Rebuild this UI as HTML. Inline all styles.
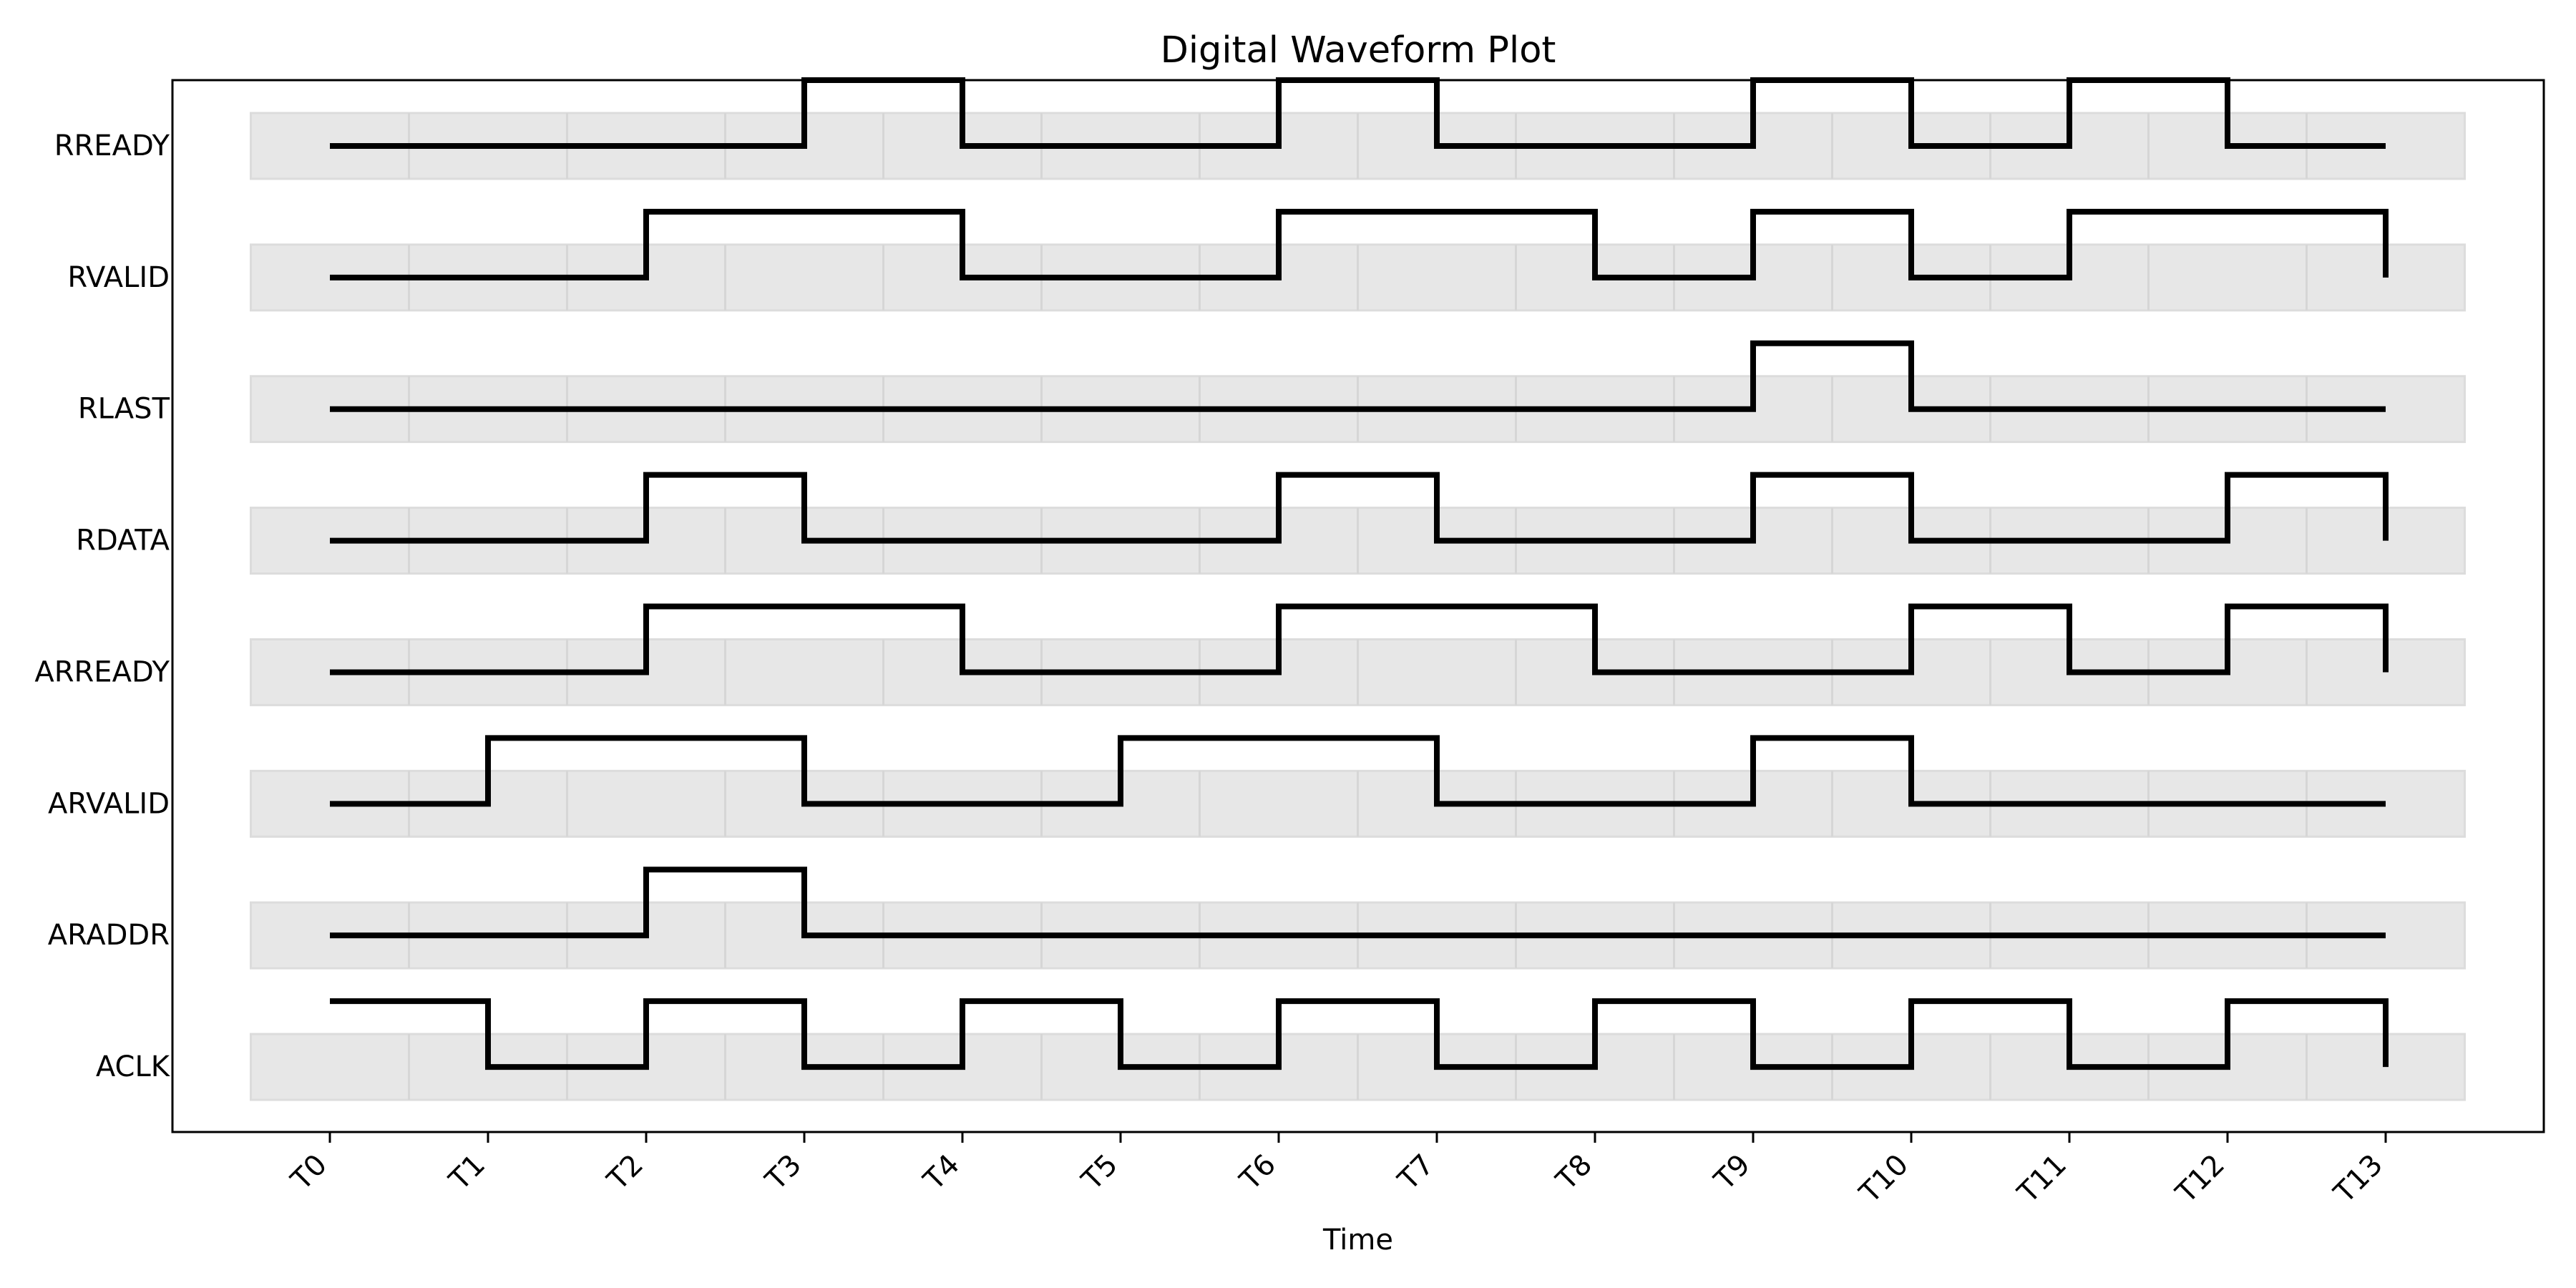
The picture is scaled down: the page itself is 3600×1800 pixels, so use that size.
<!DOCTYPE html>
<html>
<head>
<meta charset="utf-8">
<style>
html,body{margin:0;padding:0;background:#fff;}
svg{display:block;}
text{font-family:"DejaVu Sans","Liberation Sans",sans-serif;fill:#000;}
</style>
</head>
<body>
<svg id="chart" xmlns="http://www.w3.org/2000/svg" width="3600" height="1800" viewBox="0 0 3600 1800">
<rect x="0" y="0" width="3600" height="1800" fill="#fff"/>
<text x="1898" y="87" font-size="51" text-anchor="middle">Digital Waveform Plot</text>
<g id="bands"></g>
<g id="grid"></g>
<g id="waves"></g>
<rect x="241" y="112" width="3314" height="1470" fill="none" stroke="#000" stroke-width="3"/>
<g id="xticks"></g>
<g id="ylabels"></g>
<text x="1898" y="1746" font-size="40" text-anchor="middle">Time</text>
</svg>
<script>
const timeLabels = ["T0","T1","T2","T3","T4","T5","T6","T7","T8","T9","T10","T11","T12","T13"];
const signalNames = ["ACLK","ARADDR","ARVALID","ARREADY","RDATA","RLAST","RVALID","RREADY"];
const aclk    = [1,0,1,0,1,0,1,0,1,0,1,0,1,0];
const araddr  = [0,0,1,0,0,0,0,0,0,0,0,0,0,0];
const arvalid = [0,1,1,0,0,1,1,0,0,1,0,0,0,0];
const arready = [0,0,1,1,0,0,1,1,0,0,1,0,1,0];
const rdata   = [0,0,1,0,0,0,1,0,0,1,0,0,1,0];
const rlast   = [0,0,0,0,0,0,0,0,0,1,0,0,0,0];
const rvalid  = [0,0,1,1,0,0,1,1,0,1,0,1,1,0];
const rready  = [0,0,0,1,0,0,1,0,0,1,0,1,0,0];
const signalValues = [aclk, araddr, arvalid, arready, rdata, rlast, rvalid, rready];

const NS = "http://www.w3.org/2000/svg";
const X0 = 461, XSTEP = (3334 - 461) / 13;
function xs(i){ return X0 + i * XSTEP; }
const YBOT = 1583, YUNIT = (1583 - 112) / 16;
function ys(v){ return YBOT - (v + 1) * YUNIT; }
function mk(tag, attrs, parent){
  const e = document.createElementNS(NS, tag);
  for (const k in attrs) e.setAttribute(k, attrs[k]);
  parent.appendChild(e);
  return e;
}
const bands = document.getElementById('bands');
const grid = document.getElementById('grid');
const waves = document.getElementById('waves');
const xticks = document.getElementById('xticks');
const ylabels = document.getElementById('ylabels');
const n = timeLabels.length;

signalNames.forEach((name, r) => {
  const base = r * 2;
  const b = mk('rect', {x: xs(-0.5), y: ys(base + 0.5), width: xs(n - 0.5) - xs(-0.5), height: ys(base - 0.5) - ys(base + 0.5), fill: '#e7e7e7', stroke: '#dcdcdc', 'stroke-width': 3}, bands);
  
  
  for (let k = 0; k < n - 1; k++) {
    const gl = mk('line', {x1: xs(k + 0.5), x2: xs(k + 0.5), y1: ys(base + 0.5), y2: ys(base - 0.5), stroke: '#d6d6d6', 'stroke-width': 3}, grid);
    
    
  }
  const vals = signalValues[r];
  let d = 'M' + xs(0) + ' ' + ys(base + vals[0]);
  for (let i = 1; i < vals.length; i++) {
    d += ' L' + xs(i) + ' ' + ys(base + vals[i - 1]);
    d += ' L' + xs(i) + ' ' + ys(base + vals[i]);
  }
  const p = mk('path', {d: d, fill: 'none', stroke: '#000', 'stroke-width': 8, 'stroke-linejoin': 'miter'}, waves);
  
  
  const t = mk('text', {x: 237, y: ys(base) + 13, 'font-size': 40, 'text-anchor': 'end'}, ylabels);
  t.textContent = name;
  
  
});

timeLabels.forEach((lab, i) => {
  const x = xs(i);
  const tk = mk('line', {x1: x, x2: x, y1: 1583, y2: 1597, stroke: '#000', 'stroke-width': 3}, xticks);
  
  
  const t = mk('text', {x: x - 2, y: 1630, 'font-size': 40, 'text-anchor': 'end', transform: 'rotate(-45 ' + (x - 2) + ' 1630)'}, xticks);
  t.textContent = lab;
  
  
});
</script>
</body>
</html>
